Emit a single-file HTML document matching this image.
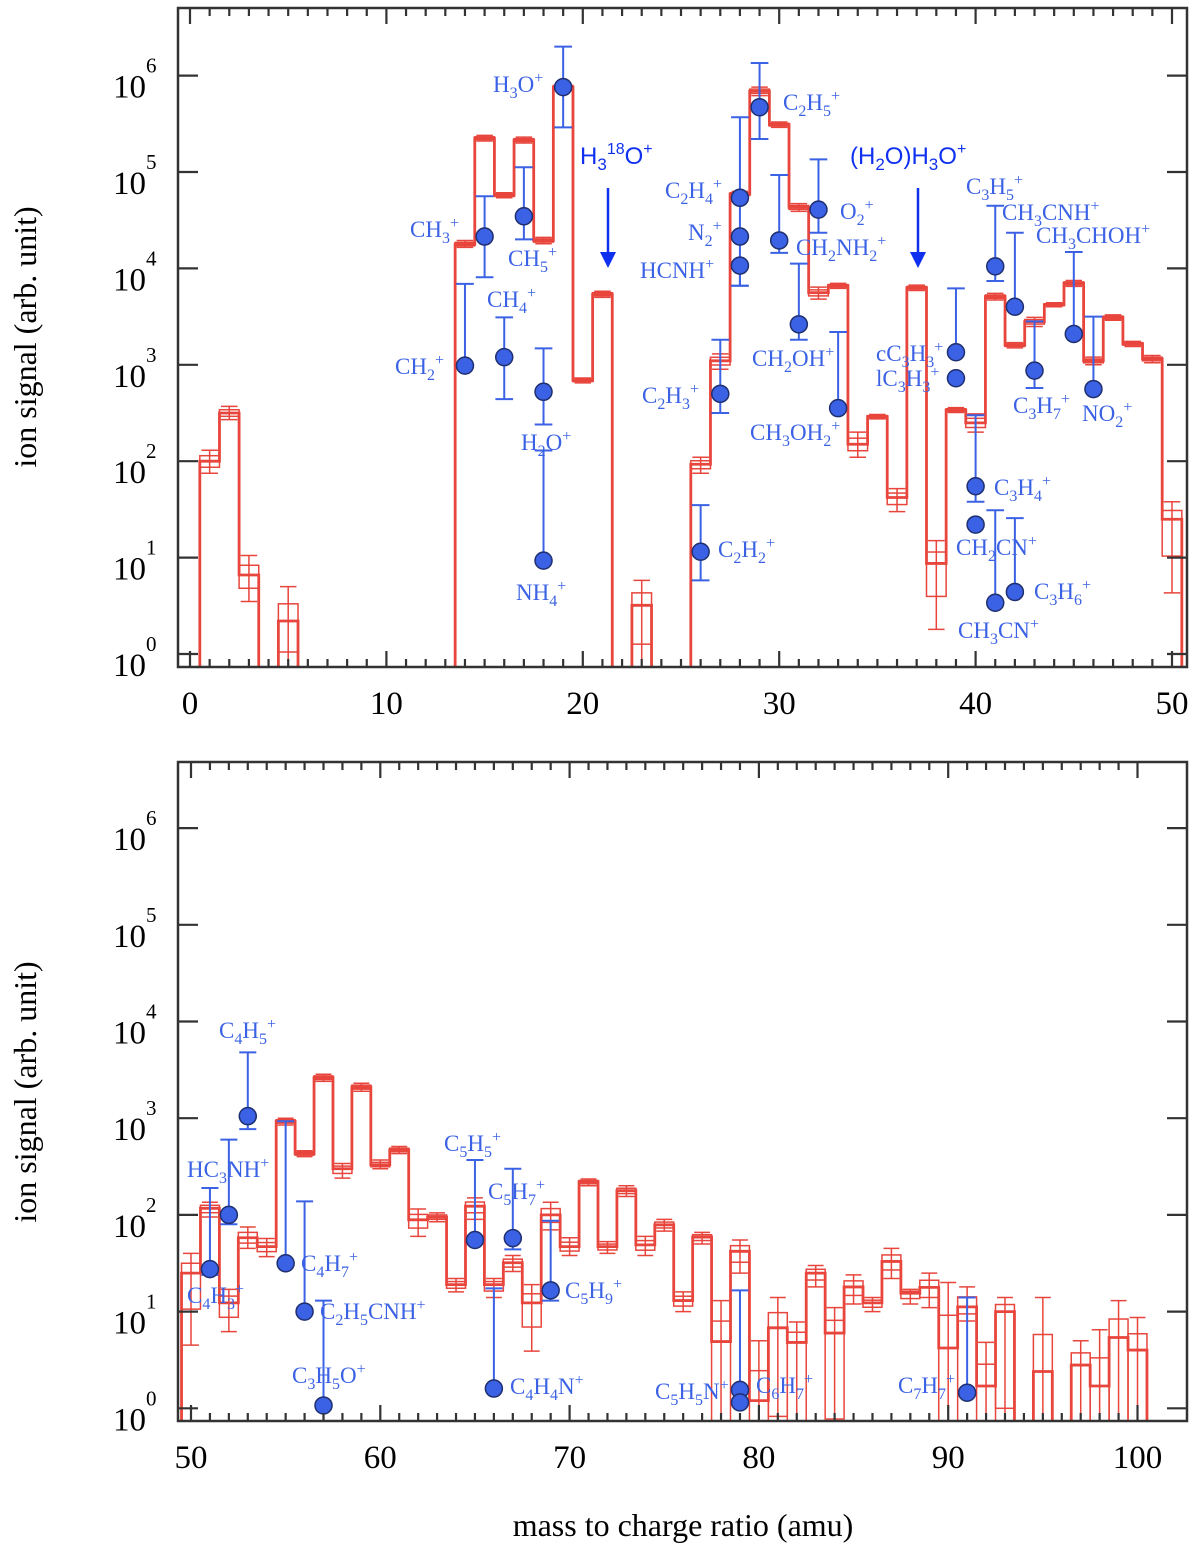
<!DOCTYPE html>
<html><head><meta charset="utf-8"><style>
html,body{margin:0;padding:0;background:#fff}
svg{display:block}
text{font-family:"Liberation Serif",serif}
</style></head><body>
<svg id="chart" width="1200" height="1563" viewBox="0 0 1200 1563" xmlns="http://www.w3.org/2000/svg">
<defs>
<clipPath id="clipTop"><rect x="178" y="8" width="1009" height="659"/></clipPath>
<clipPath id="clipBot"><rect x="178" y="762" width="1009" height="659"/></clipPath>
</defs>
<g id="topPanel"></g>
<g id="botPanel"></g>
<text transform="translate(36,337) rotate(-90)" text-anchor="middle" font-size="32">ion signal (arb. unit)</text>
<text transform="translate(36,1092) rotate(-90)" text-anchor="middle" font-size="32">ion signal (arb. unit)</text>
<text x="683" y="1536" text-anchor="middle" font-size="32">mass to charge ratio (amu)</text>
<g>
<text x="580" y="164" font-size="24" fill="#1030f0" style="font-family:'Liberation Sans',sans-serif">H<tspan font-size="17" dy="6">3</tspan><tspan font-size="16" dy="-16">18</tspan><tspan dy="10">O</tspan><tspan font-size="16" dy="-10">+</tspan></text>
<line x1="608" y1="188" x2="608" y2="255" stroke="#1030f0" stroke-width="2.5"/>
<polygon points="600,252 616,252 608,268" fill="#1030f0"/>
</g>
<g>
<text x="850" y="164" font-size="24" fill="#1030f0" style="font-family:'Liberation Sans',sans-serif">(H<tspan font-size="17" dy="6">2</tspan><tspan dy="-6">O)H</tspan><tspan font-size="17" dy="6">3</tspan><tspan dy="-6">O</tspan><tspan font-size="16" dy="-10">+</tspan></text>
<line x1="918" y1="188" x2="918" y2="255" stroke="#1030f0" stroke-width="2.5"/>
<polygon points="910,252 926,252 918,268" fill="#1030f0"/>
</g>
<g id="labels"></g>
</svg>
<script>
// ---------- TOP PANEL DATA ----------
const topMass = [1,2,3,5,14,15,16,17,18,19,20,21,23,26,27,28,29,30,31,32,33,34,35,36,37,38,39,40,41,42,43,44,45,46,47,48,49,50];
const topVal  = [100,316,6.6,2.2,17800,224000,57500,214000,19500,760000,690,5400,3.2,93,1100,59000,690000,310000,43000,5600,6600,150,290,42,6300,8.7,340,250,5100,1600,2800,4200,7000,1100,3100,1650,1150,25];
const topLo   = [75,270,3.5,0.5,16500,210000,54000,200000,18000,700000,650,5000,0.5,75,900,55000,620000,290000,39000,4800,6200,110,275,30,5900,1.8,320,200,4700,1500,2500,4000,6500,1000,2900,1550,1050,4.3];
const topHi   = [130,370,10.5,5.0,19500,240000,61000,230000,21000,820000,730,5800,5.8,110,1300,63000,760000,330000,47000,6400,7000,200,305,52,6700,15,360,310,5500,1700,3100,4400,7500,1200,3300,1750,1250,38];
const topIonMass = [14,15,16,17,18,18,19,26,27,28,28,28,29,30,31,32,33,39,39,40,40,41,41,42,42,43,45,46];
const topIonVal  = [980,21400,1200,34700,525,9.3,760000,11.5,500,54000,21400,10700,470000,19500,2630,40700,355,1350,725,55,22,10500,3.4,4000,4.4,870,2090,560];
const topIonLo   = [980,8100,440,20000,240,9.3,290000,5.8,316,6600,21400,6600,220000,14500,1820,23400,355,1350,725,38,22,7400,3.4,4000,4.4,575,2090,560];
const topIonHi   = [6900,56000,3100,112000,1480,129,2000000,35,1820,370000,21400,10700,1350000,93000,11200,135000,2190,6200,725,300,22,44700,31,23400,25.7,2820,14800,3160];
const topXTicks = [0,10,20,30,40,50];
// ---------- BOTTOM PANEL DATA ----------
const botMass = [50,51,52,53,54,55,56,57,58,59,60,61,62,63,64,65,66,67,68,69,70,71,72,73,74,75,76,77,78,79,80,81,82,83,84,85,86,87,88,89,90,91,92,93,95,97,98,99,100];
const botVal  = [25,117,12.3,58,47,930,430,2630,300,2100,330,470,89,95,19,123,19,32,12.3,100,47,220,47,178,49,79,13,59,4.9,42,1.2,6.8,4.8,25,6,18,12.3,33,15.5,17.8,4.2,11.2,1.7,10,2.4,2.8,1.7,5.4,4.0];
const botLo   = [4.5,95,6.2,45,37,850,400,2400,240,1900,300,430,60,85,16,90,14,26,3.9,70,38,200,40,155,38,68,10,50,0.1,25,0.1,0.1,0.1,18,0.1,12,10,22,12,11,0.1,8,0.1,0.1,0.1,0.1,0.1,0.1,0.1];
const botHi   = [40,135,17,75,57,1000,460,2850,340,2300,370,510,115,105,22,150,22,38,19,135,58,235,53,200,60,90,16,66,13,55,5,14,7.8,30,11,24,14,45,17,25,20,18,4.8,14,14,5,6.5,13,8.7];
const botIonMass = [51,52,53,55,56,57,65,66,67,69,79,79,91];
const botIonVal  = [27.5,100,1050,31.6,10,1.07,55,1.6,57.5,16.6,1.55,1.15,1.45];
const botIonLo   = [24,80,770,31.6,10,1.07,55,1.6,44,13,1.55,1.15,1.45];
const botIonHi   = [190,600,4800,930,138,13,370,17.4,300,87,16.6,1.15,14];
const botXTicks = [50,60,70,80,90,100];
const yDecades = [0,1,2,3,4,5,6];

const NS = "http://www.w3.org/2000/svg";
function mk(tag, attrs, parent){
  const e = document.createElementNS(NS, tag);
  for (const k in attrs) e.setAttribute(k, attrs[k]);
  parent.appendChild(e); return e;
}
const RED = "#e8453c", BLUE = "#3b62e4";

function drawPanel(g, cfg){
  const X = m => cfg.x0 + cfg.xs*(m - cfg.m0);
  const Y = v => Math.min(cfg.yb + 20, cfg.y0 - cfg.ys*Math.log10(Math.max(v,1e-3)));
  const clip = mk('g', {'clip-path': 'url(#' + cfg.clip + ')'}, g);
  
  
  const mass = cfg.mass, val = cfg.val, lo = cfg.lo, hi = cfg.hi;
  let d = "";
  for (let i=0;i<mass.length;i++){
    const m = mass[i], xl = X(m-0.5), xr = X(m+0.5), y = Y(val[i]);
    const prev = i>0 && mass[i-1]===m-1;
    const next = i<mass.length-1 && mass[i+1]===m+1;
    if (prev) d += " L" + xl + "," + y; else d += " M" + xl + "," + (cfg.yb+5) + " L" + xl + "," + y;
    d += " L" + xr + "," + y;
    if (!next) d += " L" + xr + "," + (cfg.yb+5);
    const bh = val[i]*Math.sqrt(hi[i]/val[i]), bl = val[i]*Math.sqrt(lo[i]/val[i]);
    const box = mk('rect', {x: xl, y: Y(bh), width: xr-xl, height: Math.max(1, Y(bl)-Y(bh)), fill: 'none', stroke: RED, 'stroke-width': 1.5}, clip);
    
    
    const xc = X(m), cw = cfg.xs*0.42;
    const wh = mk('path', {d: "M"+xc+","+Y(lo[i])+" L"+xc+","+Y(hi[i])+" M"+(xc-cw)+","+Y(hi[i])+" L"+(xc+cw)+","+Y(hi[i])+" M"+(xc-cw)+","+Y(lo[i])+" L"+(xc+cw)+","+Y(lo[i]), stroke: RED, 'stroke-width': 1.5, fill: 'none'}, clip);
    
    
  }
  const step = mk('path', {d: d, fill: 'none', stroke: RED, 'stroke-width': 2.8}, clip);
  
  
  for (let i=0;i<cfg.imass.length;i++){
    const xc = X(cfg.imass[i]), cw = cfg.xs*0.45;
    const yl = Y(cfg.ilo[i]), yh = Y(cfg.ihi[i]);
    const eb = mk('path', {d: "M"+xc+","+yl+" L"+xc+","+yh+" M"+(xc-cw)+","+yh+" L"+(xc+cw)+","+yh+" M"+(xc-cw)+","+yl+" L"+(xc+cw)+","+yl, stroke: BLUE, 'stroke-width': 2, fill: 'none'}, clip);
    
    
    const c = mk('circle', {cx: xc, cy: Y(cfg.ival[i]), r: 8.5, fill: BLUE, stroke: '#1f2f70', 'stroke-width': 1.5}, clip);
    
    
  }
  const fr = mk('rect', {x: 178, y: cfg.yt, width: 1009, height: cfg.yb-cfg.yt, fill: 'none', stroke: '#333', 'stroke-width': 2.5}, g);
  
  
  let td = "";
  for (let m = cfg.m0; m <= cfg.m0+50; m++){
    const x = X(m), L = (m % 10 === 0) ? 16 : 8;
    td += " M"+x+","+cfg.yb+" L"+x+","+(cfg.yb-L)+" M"+x+","+cfg.yt+" L"+x+","+(cfg.yt+L);
  }
  for (const k of yDecades){
    const y = cfg.y0 - cfg.ys*k;
    td += " M178,"+y+" L198,"+y+" M1187,"+y+" L1167,"+y;
  }
  const tk = mk('path', {d: td, stroke: '#333', 'stroke-width': 2.2, fill: 'none'}, g);
  
  
  for (const t of cfg.xticks){
    const tl = mk('text', {x: X(t), y: cfg.yb+47, 'text-anchor': 'middle', 'font-size': 33}, g);
    tl.textContent = t;
    
    
  }
  for (const k of yDecades){
    const y = cfg.y0 - cfg.ys*k;
    const tl = mk('text', {x: 146, y: y+22, 'text-anchor': 'end', 'font-size': 33}, g);
    tl.textContent = "10";
    
    
    const ex = mk('text', {x: 146, y: y-3, 'font-size': 21}, g);
    ex.textContent = k;
    
    
  }
}

drawPanel(document.getElementById('topPanel'), {x0:190, xs:19.64, m0:0, y0:654, ys:96.4, yt:8, yb:667, clip:'clipTop',
  mass: topMass, val: topVal, lo: topLo, hi: topHi, imass: topIonMass, ival: topIonVal, ilo: topIonLo, ihi: topIonHi, xticks: topXTicks});
drawPanel(document.getElementById('botPanel'), {x0:191, xs:18.93, m0:50, y0:1408.3, ys:96.7, yt:762, yb:1421, clip:'clipBot',
  mass: botMass, val: botVal, lo: botLo, hi: botHi, imass: botIonMass, ival: botIonVal, ilo: botIonLo, ihi: botIonHi, xticks: botXTicks});

const labelText = ["H_3O^+","C_2H_5^+","C_2H_4^+","C_3H_5^+","CH_3^+","N_2^+","CH_3CNH^+","O_2^+","CH_3CHOH^+","CH_2NH_2^+","CH_5^+","HCNH^+","CH_4^+","CH_2^+","CH_2OH^+","cC_3H_3^+","lC_3H_3^+","C_2H_3^+","C_3H_7^+","NO_2^+","CH_3OH_2^+","H_2O^+","C_3H_4^+","C_2H_2^+","CH_2CN^+","C_3H_6^+","NH_4^+","CH_3CN^+",
  "C_4H_5^+","C_5H_5^+","HC_3NH^+","C_5H_7^+","C_4H_7^+","C_5H_9^+","C_4H_3^+","C_2H_5CNH^+","C_3H_5O^+","C_4H_4N^+","C_5H_5N^+","C_6H_7^+","C_7H_7^+"];
const labelPos = [[493,92],[783,110],[665,198],[966,194],[410,237],[688,240],[1002,220],[840,219],[1036,243],[796,255],[508,266],[640,278],[487,307],[395,374],[752,366],[876,361],[876,386],[642,403],[1013,413],[1082,421],[750,440],[521,450],[994,495],[718,557],[956,555],[1034,599],[516,600],[958,638],
  [219,1038],[444,1151],[187,1177],[488,1199],[301,1271],[565,1298],[187,1303],[320,1319],[292,1383],[510,1394],[655,1399],[756,1393],[898,1393]];
const lg = document.getElementById('labels');
for (let i=0;i<labelText.length;i++){
  const t = mk('text', {x: labelPos[i][0], y: labelPos[i][1], 'font-size': 23, fill: BLUE}, lg);
  
  
  const parts = labelText[i].split(/(_\d|\^\+)/).filter(s => s.length);
  let shift = 0;
  for (const p of parts){
    const ts = document.createElementNS(NS, 'tspan');
    let dy = 0;
    if (p[0]==='_'){ ts.textContent = p.slice(1); ts.setAttribute('font-size', 16); dy = 6 - shift; shift = 6; }
    else if (p[0]==='^'){ ts.textContent = '+'; ts.setAttribute('font-size', 16); dy = -9 - shift; shift = -9; }
    else { ts.textContent = p; dy = -shift; shift = 0; }
    if (dy) ts.setAttribute('dy', dy);
    t.appendChild(ts);
  }
}
</script>
</body></html>
